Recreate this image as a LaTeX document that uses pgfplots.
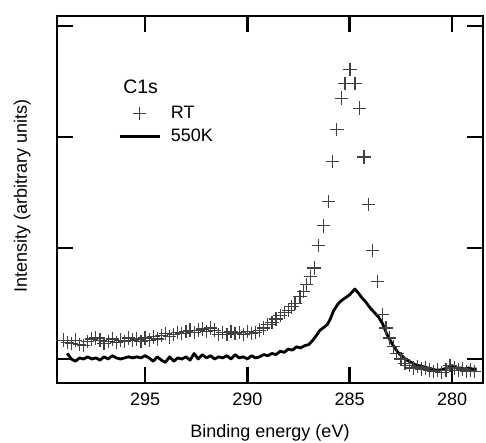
\documentclass[border=0pt]{standalone}
\usepackage{fontspec}
\setmainfont{Liberation Sans}
\usepackage{pgfplots}
\pgfplotsset{compat=1.18}
\pgfplotsset{
    long line legend/.style={legend image code/.code={\draw[mark repeat=2,mark phase=2,##1]
        plot coordinates {(0pt,0pt) (20pt,0pt) (40pt,0pt)};}},
}

\pgfplotstableread{
x y
299.0 0.17
298.8 0.15
298.6 0.14
298.4 0.17
298.2 0.13
298.0 0.12
297.8 0.16
297.6 0.18
297.4 0.19
297.2 0.17
297.0 0.14
296.8 0.16
296.6 0.18
296.4 0.15
296.2 0.17
296.0 0.16
295.8 0.19
295.6 0.17
295.4 0.18
295.2 0.16
295.0 0.19
294.8 0.17
294.6 0.20
294.4 0.18
294.2 0.21
294.0 0.23
293.8 0.20
293.6 0.22
293.4 0.24
293.2 0.23
293.0 0.25
292.8 0.26
292.6 0.24
292.4 0.26
292.2 0.27
292.0 0.25
291.8 0.28
291.6 0.26
291.4 0.22
291.2 0.24
291.0 0.22
290.8 0.25
290.6 0.23
290.4 0.24
290.2 0.22
290.0 0.25
289.8 0.23
289.6 0.24
289.4 0.26
289.2 0.28
289.0 0.31
288.8 0.33
288.6 0.36
288.4 0.39
288.2 0.42
288.0 0.44
287.83 0.47
287.67 0.50
287.43 0.56
287.27 0.61
287.10 0.67
286.91 0.74
286.74 0.82
286.53 1.02
286.29 1.20
286.05 1.42
285.85 1.78
285.63 2.07
285.39 2.35
285.23 2.48
284.99 2.61
284.74 2.48
284.53 2.26
284.30 1.82
284.09 1.39
283.88 0.98
283.65 0.70
283.40 0.40
283.23 0.28
283.05 0.19
282.87 0.11
282.70 0.05
282.50 0.00
282.30 -0.04
282.10 -0.06
281.90 -0.08
281.70 -0.07
281.50 -0.09
281.30 -0.08
281.10 -0.10
280.90 -0.11
280.70 -0.10
280.50 -0.12
280.30 -0.10
280.10 -0.06
279.90 -0.08
279.70 -0.10
279.50 -0.09
279.30 -0.11
279.10 -0.10
278.90 -0.11
}\rtdata

\pgfplotstableread{
x y
298.8 0.05
298.6 0.00
298.4 -0.02
298.2 0.01
298.0 0.00
297.8 0.02
297.6 0.00
297.4 0.01
297.2 -0.01
297.0 0.02
296.8 0.00
296.6 0.03
296.4 0.01
296.2 0.00
296.0 0.01
295.8 0.02
295.6 0.01
295.4 0.02
295.2 0.01
295.0 0.03
294.8 0.01
294.6 -0.02
294.4 0.02
294.2 -0.01
294.0 -0.03
293.8 0.02
293.6 -0.02
293.4 0.01
293.2 0.00
293.0 0.02
292.8 -0.01
292.6 0.05
292.4 0.00
292.2 0.04
292.0 0.01
291.8 0.03
291.6 0.00
291.4 0.02
291.2 0.01
291.0 0.03
290.8 0.00
290.6 0.04
290.4 0.01
290.2 0.02
290.0 0.00
289.8 0.03
289.6 0.01
289.4 0.02
289.2 0.04
289.0 0.03
288.8 0.05
288.6 0.04
288.4 0.07
288.2 0.06
288.0 0.09
287.8 0.08
287.6 0.11
287.4 0.10
287.2 0.12
287.0 0.13
286.8 0.17
286.6 0.22
286.45 0.26
286.3 0.28
286.1 0.31
285.95 0.36
285.8 0.43
285.6 0.49
285.45 0.52
285.3 0.54
285.15 0.56
285.0 0.58
284.85 0.61
284.75 0.63
284.6 0.60
284.4 0.55
284.2 0.51
284.0 0.46
283.8 0.42
283.6 0.38
283.4 0.32
283.2 0.23
283.0 0.16
282.8 0.10
282.6 0.05
282.4 0.02
282.2 -0.01
282.0 -0.03
281.8 -0.05
281.6 -0.06
281.4 -0.07
281.2 -0.08
281.0 -0.09
280.8 -0.10
280.6 -0.10
280.4 -0.09
280.2 -0.08
280.0 -0.06
279.8 -0.08
279.6 -0.08
279.4 -0.09
279.2 -0.08
279.0 -0.09
278.8 -0.09
}\hotdata

\begin{document}
\begin{tikzpicture}[font=\fontsize{18}{21}\selectfont]
\begin{axis}[
    scale only axis,
    width=426pt, height=367pt,
    x dir=reverse,
    xmin=278.49, xmax=299.30,
    ymin=-0.216, ymax=3.09,
    xtick={280,285,290,295},
    ytick={0,1,2,3},
    yticklabels={},
    tick pos=both,
    tick align=inside,
    major tick length=16pt,
    every tick/.style={black, line width=2.5pt},
    axis line style={line width=2.5pt},
    /pgf/number format/assume math mode=true,
    xticklabel style={yshift=-6pt},
    xlabel={Binding energy (eV)},
    ylabel={Intensity (arbitrary units)},
    xlabel style={at={(axis description cs:0.5,0)}, anchor=base, yshift=-54pt},
    ylabel style={at={([xshift=-30pt]axis description cs:0,0.51)}, anchor=base, rotate=0},
    legend style={draw=none, fill=none, at={(axis description cs:0.143,0.768)},
        anchor=north west, inner sep=0pt, row sep=-1pt,
        nodes={inner sep=5pt},
        /tikz/every odd column/.style={column sep=5pt}},
    legend cell align=left,
]
\addplot[only marks, mark=+, mark size=6.7pt, black!75, line width=1.2pt,
    forget plot] table {\rtdata};
\addlegendimage{black!75, line width=1.2pt, mark=+, mark size=6.7pt,
    draw opacity=0, mark options={draw opacity=1}, long line legend}
\addlegendentry{RT}
\addplot[black, line width=2.8pt, line join=round, long line legend] table {\hotdata};
\addlegendentry{550K}
\node[anchor=base west, inner sep=0pt, font=\fontsize{19.5}{22}\selectfont] at (axis cs:296.07,2.394) {C1s};
\end{axis}
\pgfresetboundingbox
\path (-57pt,-59pt) rectangle (429pt,383pt);
\end{tikzpicture}
\end{document}
